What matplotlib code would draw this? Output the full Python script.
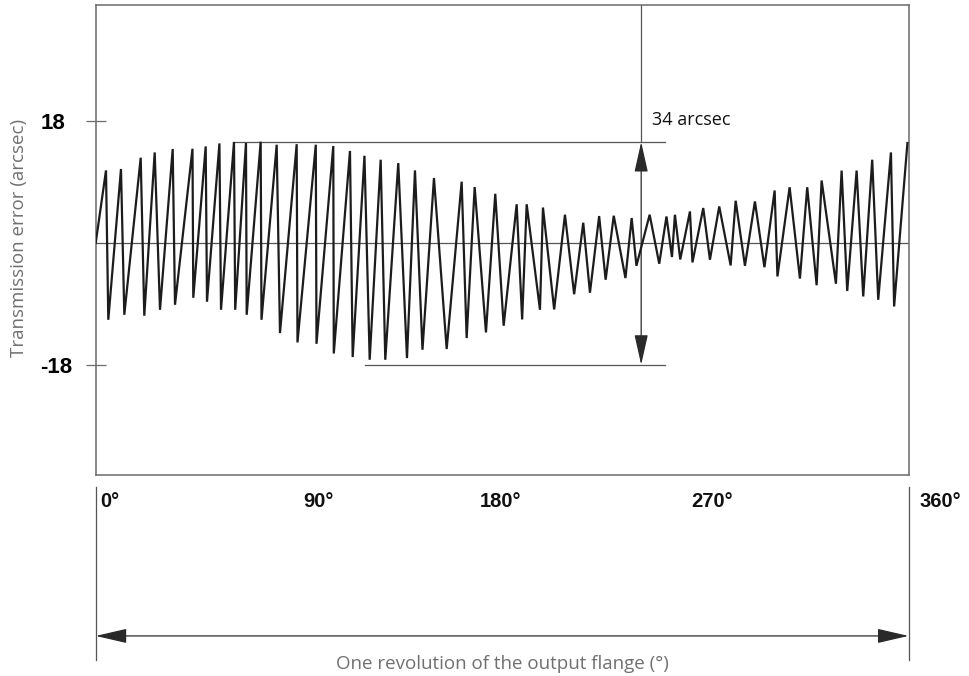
import numpy as np
import matplotlib
matplotlib.use('Agg')
import matplotlib.pyplot as plt
from matplotlib.patches import FancyArrowPatch

# zigzag vertices: angle (deg) and error (arcsec)
angle = [0, 4.56, 5.58, 11.2, 12.67, 19.93, 21.52, 26.13, 28.48, 34.1, 35.12,
         42.87, 43.22, 48.72, 49.29, 54.8, 55.5, 61.25, 61.78, 66.56, 66.87,
         73.07, 73.43, 80.16, 81.62, 89.02, 89.37, 97.48, 97.79, 105.23, 105.45,
         112.62, 113.82, 119.04, 121.35, 126.22, 128.26, 134.01, 137.87, 141.41,
         144.73, 149.82, 155.45, 162.09, 164.30, 167.85, 172.85, 176.97, 180.69,
         186.45, 188.88, 190.88, 196.77, 198.10, 203.06, 207.84, 211.91, 215.94,
         218.91, 222.98, 225.86, 229.45, 234.63, 237.38, 239.50, 245.35, 249.60,
         252.80, 255.23, 256.55, 258.90, 263.20, 264.31, 269.09, 272.05, 276.17,
         281.22, 283.44, 287.56, 291.98, 296.19, 300.71, 301.95, 307.35, 311.91,
         315.15, 319.31, 321.52, 327.86, 330.38, 332.86, 337.02, 339.95, 343.93,
         346.59, 352.22, 353.63, 359.52]
error = [0, 10.74, -11.35, 10.95, -10.61, 12.62, -10.75, 13.40, -9.87, 13.91, -9.13,
         13.95, -8.09, 14.29, -8.68, 14.73, -9.87, 14.94, -9.87, 14.79, -10.61,
         14.99, -11.35, 14.54, -13.31, 14.62, -14.70, 14.54, -14.90, 14.35, -16.33,
         13.62, -16.86, 12.91, -17.26, 12.32, -17.26, 11.83, -17.01, 10.74,
         -15.78, 9.62, -15.67, 9.07, -14.05, 8.28, -13.22, 7.29, -12.23,
         5.74, -11.30, 5.74, -9.87, 5.25, -9.82, 4.19, -7.57, 3.00,
         -7.35, 3.99, -5.43, 4.04, -5.18, 3.70, -3.36, 4.19, -3.06,
         3.93, -2.07, 4.19, -2.43, 4.67, -2.87, 5.18, -2.47, 5.41,
         -3.31, 6.26, -3.36, 6.15, -3.58, 7.77, -4.94, 8.25, -5.25,
         8.25, -6.24, 9.25, -6.02, 10.72, -7.09, 10.72, -7.90, 12.32,
         -8.39, 13.40, -9.38, 14.79]

ytick_vals = [-18, 18]
ytick_labels = ['-18', '18']
xtick_vals = [0, 90, 180, 270, 360]
xtick_labels = ['0°', '90°', '180°', '270°', '360°']

# peak-to-peak marker
pp_top, pp_bot = 14.94, -18
pp_top_start, pp_bot_start, pp_end = 60.8, 119.3, 252.1
pp_x = 241.6

W, H = 970, 676
fig = plt.figure(figsize=(W / 100, H / 100), dpi=100)

L, R, T, B = 95.7, 908.5, 5, 475
ax = fig.add_axes([L / W, 1 - B / H, (R - L) / W, (B - T) / H])
ax.set_xlim(0, 360)
ax.set_ylim(-34.3, 35.2)

gray = '#6a6a6a'
for s in ax.spines.values():
    s.set_color(gray)
    s.set_linewidth(1.1)

ax.axhline(0, color='#555555', lw=0.9, zorder=1)
ax.plot(angle, error, color='#1c1c1c', lw=1.6, solid_joinstyle='miter', zorder=3)

# reference lines and vertical dimension arrow
ax.plot([pp_top_start, pp_end], [pp_top, pp_top], color='#555555', lw=0.9)
ax.plot([pp_bot_start, pp_end], [pp_bot, pp_bot], color='#555555', lw=0.9)
ax.plot([pp_x, pp_x], [35.2, pp_top], color='#555555', lw=0.9)
arr = FancyArrowPatch((pp_x, pp_top), (pp_x, pp_bot),
                      arrowstyle='<|-|>,head_length=1.25,head_width=0.28',
                      mutation_scale=15, color='#2a2a2a', lw=0.9,
                      shrinkA=0, shrinkB=0)
ax.add_patch(arr)
ax.text(pp_x + 4.8, 16.9, '34 arcsec', fontsize=13, family='Open Sans',
        color='#111111', ha='left', va='bottom')

ax.set_xticks([])
ax.set_yticks(ytick_vals)
ax.set_yticklabels(ytick_labels, fontsize=16, fontweight='bold',
                   family='Liberation Sans', ha='left')
ax.tick_params(axis='y', direction='inout', length=14, width=0.9,
               color=gray, pad=33)
ax.set_ylabel('Transmission error (arcsec)', fontsize=13.5, family='Open Sans',
              color='#707070')
ax.yaxis.set_label_coords(-0.083, 0.505)

# lower scale: revolution span with degree labels
ax2 = fig.add_axes([L / W, 0, (R - L) / W, 1 - 487 / H])
ax2.set_xlim(0, 360)
ax2.set_ylim(0, 1)
ax2.axis('off')
for xv in [0, 360]:
    ax2.plot([xv, xv], [1, 0.085], color='#555555', lw=0.9, clip_on=False)
span = FancyArrowPatch((0, 0.212), (360, 0.212),
                       arrowstyle='<|-|>,head_length=1.3,head_width=0.3',
                       mutation_scale=15, color='#2a2a2a', lw=0.9,
                       shrinkA=0, shrinkB=0, clip_on=False)
ax2.add_patch(span)

nudge = [2, 8.6, -0.9, 2.9, 5]
align = ['left', 'center', 'center', 'center', 'left']
for xv, lab, dx, ha in zip(xtick_vals, xtick_labels, nudge, align):
    ax2.text(xv + dx, 0.925, lab, fontsize=14.5, fontweight='bold',
             family='Liberation Sans', ha=ha, va='center', color='#111111',
             clip_on=False)
ax2.text(180, 0.063, 'One revolution of the output flange (°)', fontsize=13.5,
         family='Open Sans', color='#707070', ha='center', va='center')

fig.savefig('out.png', dpi=100, facecolor='white')
